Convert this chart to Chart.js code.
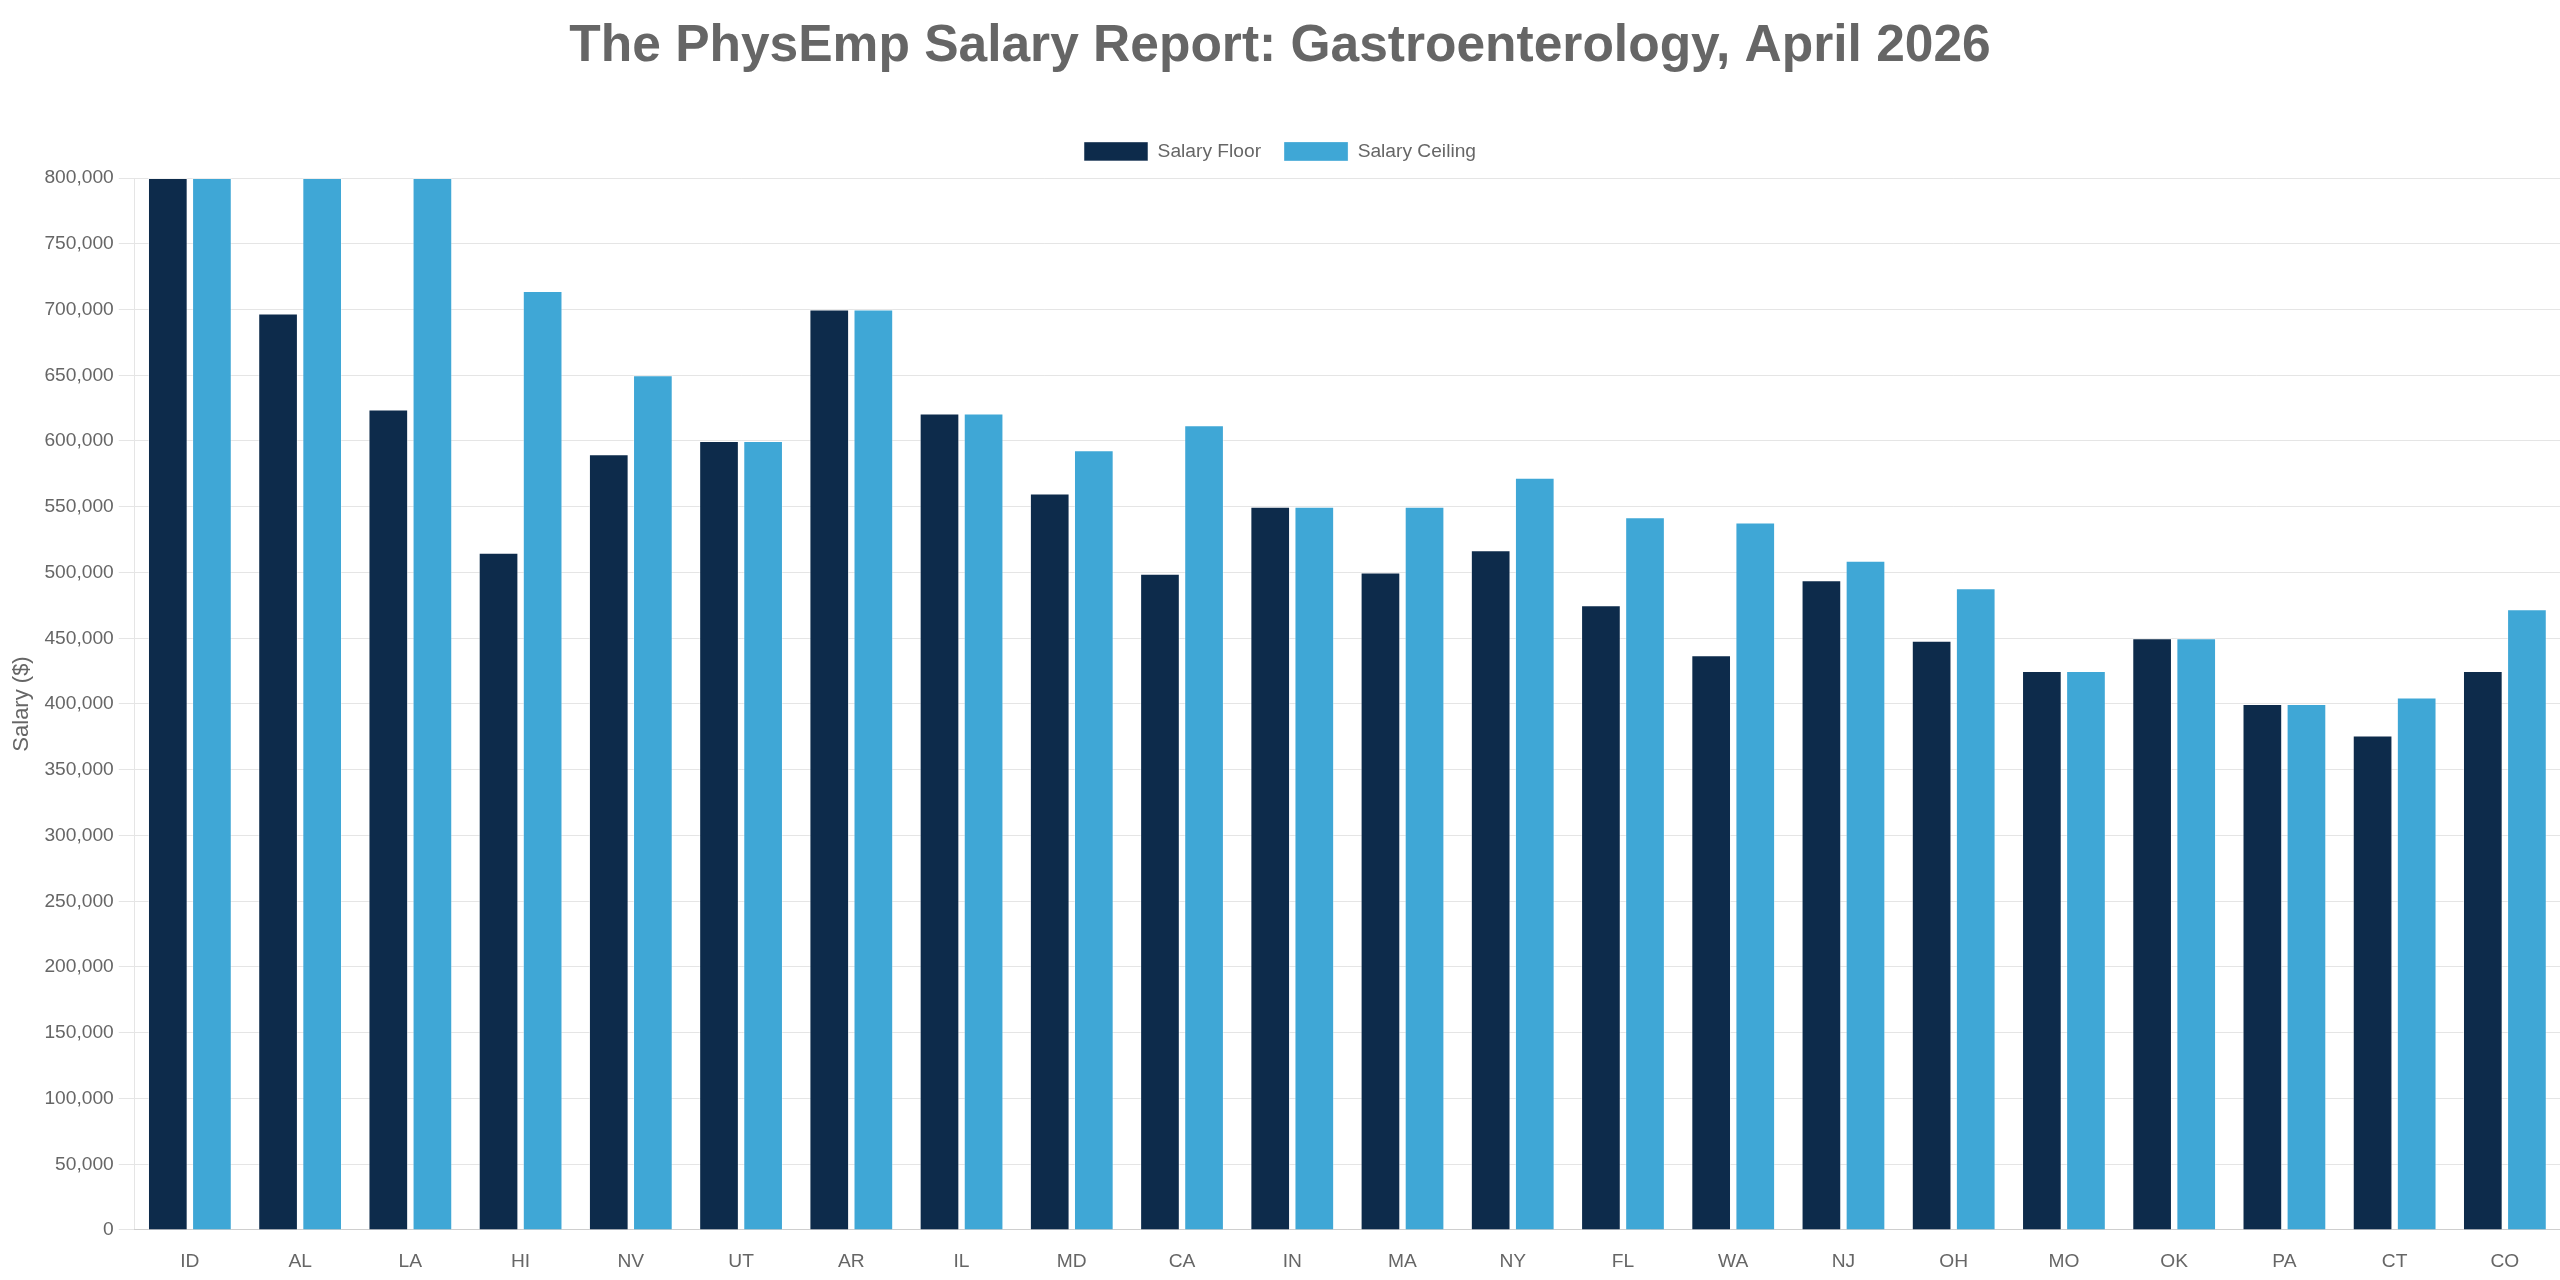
<!DOCTYPE html>
<html lang="en">
<head>
    <meta charset="UTF-8">
    <title>PhysEmp Salary Report - Gastroenterology</title>
    <script src="https://cdn.jsdelivr.net/npm/chart.js"></script>
    <style>
        * {
            box-sizing: border-box;
            margin: 0;
            padding: 0;
        }

        body {
            background: #ffffff;
            width: 2560px;
            height: 1280px;
            overflow: hidden;
        }

        .chart-wrap {
            position: relative;
            width: 2560px;
            height: 1280px;
        }
    </style>
</head>
<body>

    <div class="chart-wrap">
        <canvas id="grafico"></canvas>
    </div>

    <script>
        const states = ["ID", "AL", "LA", "HI", "NV", "UT", "AR", "IL", "MD", "CA", "IN",
                        "MA", "NY", "FL", "WA", "NJ", "OH", "MO", "OK", "PA", "CT", "CO"];

        const salaryFloor = [800000, 697000, 624000, 515000, 590000, 600000, 700000, 621000,
                             560000, 499000, 550000, 500000, 517000, 475000, 437000, 494000,
                             448000, 425000, 450000, 400000, 376000, 425000];

        const salaryCeiling = [800000, 800000, 800000, 714000, 650000, 600000, 700000, 621000,
                               593000, 612000, 550000, 550000, 572000, 542000, 538000, 509000,
                               488000, 425000, 450000, 400000, 405000, 472000];

        const textColor = '#666666';
        const fontFamily = '"Liberation Sans", Arial, Helvetica, sans-serif';

        Chart.defaults.font.family = fontFamily;
        Chart.defaults.color = textColor;

        // a bit more room between the legend and the plot area
        const legendGap = {
            id: 'legendGap',
            beforeInit(chart) {
                const originalFit = chart.legend.fit;
                chart.legend.fit = function fit() {
                    originalFit.bind(chart.legend)();
                    this.height += 7;
                };
            }
        };

        const ctx = document.getElementById('grafico').getContext('2d');

        new Chart(ctx, {
            type: 'bar',
            data: {
                labels: states,
                datasets: [
                    {
                        label: "Salary Floor",
                        data: salaryFloor,
                        backgroundColor: '#0d2b4b',
                        borderColor: 'rgba(255, 255, 255, 0.5)',
                        borderWidth: 1
                    },
                    {
                        label: "Salary Ceiling",
                        data: salaryCeiling,
                        backgroundColor: '#3fa7d6',
                        borderColor: 'rgba(255, 255, 255, 0.3)',
                        borderWidth: 1
                    }
                ]
            },
            options: {
                responsive: true,
                maintainAspectRatio: false,
                animation: false,
                layout: { padding: 0 },
                plugins: {
                    title: {
                        display: true,
                        text: "The PhysEmp Salary Report: Gastroenterology, April 2026",
                        color: textColor,
                        font: { size: 51.5, weight: 'bold' },
                        padding: { top: 16, bottom: 41 }
                    },
                    legend: {
                        position: 'top',
                        labels: {
                            boxWidth: 64,
                            boxHeight: 19,
                            color: textColor,
                            font: { size: 19.2 },
                            padding: 23
                        }
                    },
                    tooltip: { enabled: false }
                },
                scales: {
                    x: {
                        grid: { display: false, tickLength: 14 },
                        ticks: { color: textColor, font: { size: 19.2 }, padding: 6.5 }
                    },
                    y: {
                        beginAtZero: true,
                        min: 0,
                        max: 800000,
                        grid: { tickLength: 16 },
                        ticks: {
                            stepSize: 50000,
                            color: textColor,
                            font: { size: 19.2 },
                            padding: 5,
                            callback: v => v.toLocaleString('en-US')
                        },
                        title: {
                            display: true,
                            text: "Salary ($)",
                            color: textColor,
                            font: { size: 22 },
                            padding: { top: 9, bottom: 4 }
                        }
                    }
                }
            },
            plugins: [legendGap]
        });
    </script>

</body>
</html>
